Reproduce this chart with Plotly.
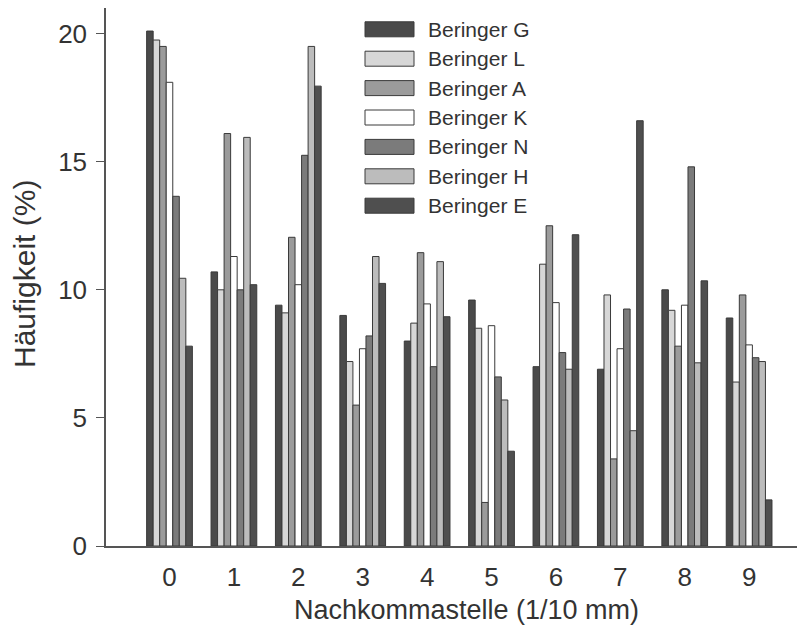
import plotly.graph_objects as go

categories = ["0", "1", "2", "3", "4", "5", "6", "7", "8", "9"]
series_names = ["Beringer G", "Beringer L", "Beringer A", "Beringer K",
                "Beringer N", "Beringer H", "Beringer E"]

beringer_g = [20.1, 10.7, 9.4, 9.0, 8.0, 9.6, 7.0, 6.9, 10.0, 8.9]
beringer_l = [19.75, 10.0, 9.1, 7.2, 8.7, 8.5, 11.0, 9.8, 9.2, 6.4]
beringer_a = [19.5, 16.1, 12.05, 5.5, 11.45, 1.7, 12.5, 3.4, 7.8, 9.8]
beringer_k = [18.1, 11.3, 10.2, 7.7, 9.45, 8.6, 9.5, 7.7, 9.4, 7.85]
beringer_n = [13.65, 10.0, 15.25, 8.2, 7.0, 6.6, 7.55, 9.25, 14.8, 7.35]
beringer_h = [10.45, 15.95, 19.5, 11.3, 11.1, 5.7, 6.9, 4.5, 7.15, 7.2]
beringer_e = [7.8, 10.2, 17.95, 10.25, 8.95, 3.7, 12.15, 16.6, 10.35, 1.8]

y_ticks = [0, 5, 10, 15, 20]
x_title = "Nachkommastelle (1/10 mm)"
y_title = "Häufigkeit (%)"

series_values = [beringer_g, beringer_l, beringer_a, beringer_k,
                 beringer_n, beringer_h, beringer_e]
colors = ["#4a4a4a", "#d7d7d7", "#9b9b9b", "#ffffff",
          "#7b7b7b", "#bcbcbc", "#4f4f4f"]

FONT = "Liberation Sans, Arial, sans-serif"

fig = go.Figure()
for name, vals, col in zip(series_names, series_values, colors):
    fig.add_trace(go.Bar(
        x=list(range(len(categories))), y=vals, name=name,
        marker=dict(color=col, line=dict(color="#3a3a3a", width=1)),
        showlegend=False,
    ))

# page is offset by the 8px body margin of the html page
OFF = 8
W, H = 805 - OFF, 634 - OFF
ml, mr, mt, mb = 98, 5, 0, 88
pw, ph = W - ml - mr, H - mt - mb

def px_x(x_page):
    return (x_page - OFF - ml) / pw

def px_y(y_page):
    return 1 - (y_page - OFF - mt) / ph

shapes = []
annotations = []
row0, step = 29.3, 29.4
for i, (name, col) in enumerate(zip(series_names, colors)):
    yc = row0 + i * step
    shapes.append(dict(type="rect", xref="paper", yref="paper",
                       x0=px_x(365), x1=px_x(414), y0=px_y(yc - 7.5), y1=px_y(yc + 7.5),
                       fillcolor=col, line=dict(color="#3a3a3a", width=1)))
    annotations.append(dict(xref="paper", yref="paper", x=px_x(426), y=px_y(yc),
                            text=name, showarrow=False, xanchor="left", yanchor="middle",
                            font=dict(size=21, color="#333333", family=FONT)))

annotations.append(dict(xref="paper", yref="paper", x=px_x(466), y=px_y(610),
                        text=x_title, showarrow=False, xanchor="center", yanchor="middle",
                        font=dict(size=27, color="#333333", family=FONT)))
annotations.append(dict(xref="paper", yref="paper", x=px_x(25), y=px_y(274),
                        text=y_title, showarrow=False, xanchor="center", yanchor="middle",
                        textangle=-90,
                        font=dict(size=30, color="#333333", family=FONT)))

fig.update_layout(
    width=W, height=H,
    margin=dict(l=ml, r=mr, t=mt, b=mb),
    paper_bgcolor="white", plot_bgcolor="white",
    barmode="group", bargap=0.29, bargroupgap=0,
    font=dict(family=FONT, color="#333333"),
    shapes=shapes, annotations=annotations,
    showlegend=False,
)
fig.update_xaxes(
    range=[-0.986, 9.79], tickmode="array", tickvals=list(range(len(categories))),
    ticktext=categories, ticks="", showgrid=False, zeroline=False,
    showline=True, linecolor="#555555", linewidth=1.5,
    tickfont=dict(size=26), ticklabelstandoff=7,
)
fig.update_yaxes(
    range=[0, 21], tickmode="array", tickvals=y_ticks, ticks="outside", ticklen=8,
    tickcolor="#555555", showgrid=False, zeroline=False,
    showline=True, linecolor="#555555", linewidth=1.5,
    tickfont=dict(size=26), ticklabelstandoff=4,
)

fig.write_html("out.html")
